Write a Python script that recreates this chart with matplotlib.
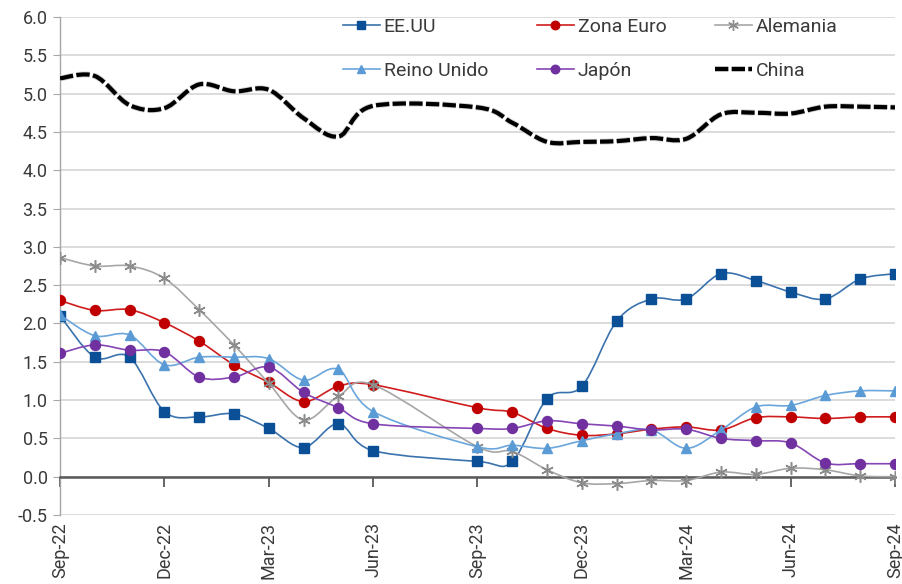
import numpy as np
import matplotlib
matplotlib.use("Agg")
import matplotlib.pyplot as plt
from matplotlib.path import Path
from matplotlib.patches import PathPatch
from matplotlib.lines import Line2D
import matplotlib.patheffects as pe

plt.rcParams["font.family"] = ["Roboto", "DejaVu Sans"]

# months counted from Sep-22 (Jul-23 and Aug-23 are missing in the source)
months = [0, 1, 2, 3, 4, 5, 6, 7, 8, 9, 12, 13, 14, 15, 16, 17, 18, 19, 20, 21, 22, 23, 24]
tick_months = [0, 3, 6, 9, 12, 15, 18, 21, 24]
tick_labels = ["Sep-22", "Dec-22", "Mar-23", "Jun-23", "Sep-23", "Dec-23", "Mar-24", "Jun-24", "Sep-24"]

eeuu = [2.10, 1.56, 1.56, 0.85, 0.78, 0.82, 0.63, 0.38, 0.69, 0.34, 0.20, 0.20,
        1.02, 1.18, 2.03, 2.32, 2.32, 2.65, 2.56, 2.41, 2.32, 2.58, 2.65]
zona_euro = [2.30, 2.17, 2.18, 2.01, 1.77, 1.46, 1.23, 0.98, 1.18, 1.20, 0.90, 0.84,
             0.63, 0.54, 0.56, 0.62, 0.65, 0.61, 0.77, 0.78, 0.76, 0.78, 0.78]
alemania = [2.86, 2.75, 2.75, 2.59, 2.18, 1.72, 1.22, 0.74, 1.05, 1.20, 0.39, 0.33,
            0.09, -0.08, -0.09, -0.05, -0.05, 0.06, 0.03, 0.11, 0.09, 0.01, 0.00]
reino_unido = [2.11, 1.84, 1.85, 1.46, 1.56, 1.56, 1.54, 1.26, 1.40, 0.85, 0.39, 0.41,
               0.37, 0.47, 0.56, 0.61, 0.37, 0.61, 0.91, 0.93, 1.06, 1.12, 1.12]
japon = [1.61, 1.72, 1.65, 1.63, 1.30, 1.30, 1.43, 1.10, 0.90, 0.69, 0.63, 0.63,
         0.73, 0.69, 0.66, 0.61, 0.62, 0.50, 0.47, 0.44, 0.18, 0.17, 0.17]
china = [5.20, 5.23, 4.85, 4.81, 5.12, 5.03, 5.05, 4.68, 4.44, 4.84, 4.82, 4.62,
         4.37, 4.37, 4.38, 4.42, 4.41, 4.73, 4.75, 4.74, 4.83, 4.83, 4.82]


def smooth_path(x, y):
    # Excel-like smoothed line: Bezier segments through every data point
    pts = np.column_stack([x, y]).astype(float)
    n = len(pts)
    verts = [pts[0]]
    codes = [Path.MOVETO]
    for i in range(n - 1):
        p0 = pts[max(i - 1, 0)]
        p1 = pts[i]
        p2 = pts[i + 1]
        p3 = pts[min(i + 2, n - 1)]
        verts += [p1 + (p2 - p0) / 6.0, p2 - (p3 - p1) / 6.0, p2]
        codes += [Path.CURVE4] * 3
    return Path(verts, codes)


fig = plt.figure(figsize=(9.03, 5.84), dpi=100)
ax = fig.add_axes([60 / 903, 1 - 515 / 584, 835 / 903, 498 / 584])

series = [
    # label, values, line colour, marker, marker colour, marker size
    ("EE.UU", eeuu, "#3a72ad", "s", "#0b4f96", 7.2),
    ("Zona Euro", zona_euro, "#d01c1c", "o", "#c00000", 7.2),
    ("Alemania", alemania, "#a6a6a6", (6, 2, 0), "#8c8c8c", 9),
    ("Reino Unido", reino_unido, "#6aa6dc", "^", "#5b9bd5", 7.5),
    ("Japón", japon, "#8545b5", "o", "#7030a0", 7.2),
]

handles = {}
for i, (name, vals, lc, mk, mc, ms) in enumerate(series):
    ax.add_patch(PathPatch(smooth_path(months, vals), fill=False, edgecolor=lc,
                           lw=1.2, zorder=3 + i * 0.1))
    ax.plot(months, vals, ls="none", marker=mk, color=mc, markersize=ms,
            markeredgewidth=1.0 if mk != (6, 2, 0) else 1.1, zorder=3.05 + i * 0.1)
    handles[name] = Line2D([], [], color=lc, lw=1.2, marker=mk, markerfacecolor=mc,
                           markeredgecolor=mc, markersize=ms * 0.85)

china_fx = [pe.Stroke(linewidth=4.2, foreground="#cfcfcf"), pe.Normal()]
ax.add_patch(PathPatch(smooth_path(months, china), fill=False, edgecolor="black",
                       lw=3.0, linestyle=(0, (3.2, 0.8)), path_effects=china_fx, zorder=4))
handles["China"] = Line2D([], [], color="black", lw=3.0, linestyle=(0, (3.2, 0.8)),
                          path_effects=china_fx)

ax.set_xlim(0, 24)
ax.set_ylim(-0.5, 6.0)
ax.set_yticks(np.arange(-0.5, 6.01, 0.5))
ax.set_yticklabels([f"{v:.1f}" for v in np.arange(-0.5, 6.01, 0.5)])
ax.yaxis.grid(True, color="#d9d9d9", lw=1.3)
ax.set_axisbelow(True)

txt = "#3a3a3a"
for s in ("top", "right"):
    ax.spines[s].set_visible(False)
ax.spines["left"].set_color("#a6a6a6")
ax.spines["left"].set_linewidth(1.0)
ax.spines["bottom"].set_position(("data", 0))
ax.spines["bottom"].set_color("#595959")
ax.spines["bottom"].set_linewidth(1.8)
ax.spines["bottom"].set_zorder(2.5)
ax.tick_params(axis="y", length=5, color="#a6a6a6", labelsize=13, labelcolor=txt, pad=4)
ax.set_xticks(tick_months)
ax.tick_params(axis="x", direction="out", length=7, width=1.3, color="#595959",
               labelbottom=False)

sec = ax.secondary_xaxis("bottom")
sec.set_xticks(tick_months)
sec.set_xticklabels(tick_labels, rotation=90, fontsize=13, color=txt)
sec.tick_params(axis="x", length=0, pad=5)
sec.spines["bottom"].set_visible(False)

# legend: Excel order row by row, matplotlib fills columns first
order = ["EE.UU", "Reino Unido", "Zona Euro", "Japón", "Alemania", "China"]
leg = ax.legend([handles[k] for k in order], order, ncol=3, frameon=False,
                loc="upper left", bbox_to_anchor=(343 / 903, 1 - 18 / 584),
                bbox_transform=fig.transFigure, fontsize=14, handlelength=1.9,
                handletextpad=0.2, columnspacing=2.5, labelspacing=1.35,
                borderaxespad=0, borderpad=0)
for t in leg.get_texts():
    t.set_color(txt)

fig.savefig("out.png", dpi=100)
